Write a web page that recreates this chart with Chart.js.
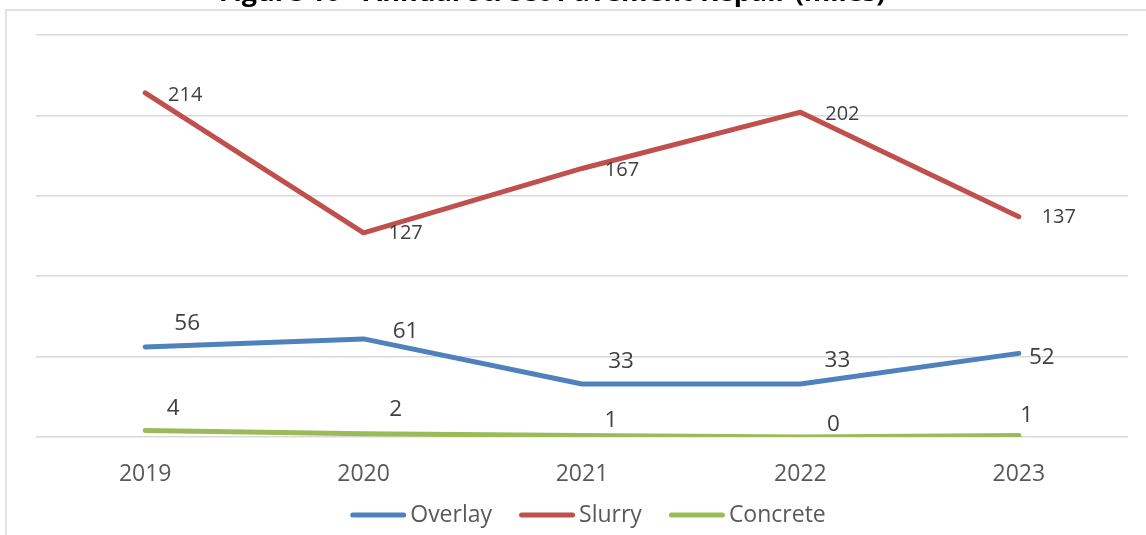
<!DOCTYPE html>
<html>
<head>
<meta charset="utf-8">
<script src="https://cdn.jsdelivr.net/npm/chart.js@4"></script>
<style>
html,body{margin:0;padding:0;background:#fff;}
#wrap{width:1146px;height:535px;position:relative;}
</style>
</head>
<body>
<div id="wrap"><canvas id="pavementChart" width="1146" height="535"></canvas></div>
<script>
const years = ["2019","2020","2021","2022","2023"]
const overlay = [56,61,33,33,52]
const slurry = [214,127,167,202,137]
const concrete = [4,2,1,0,1]

const yTicks = [0,50,100,150,200,250]

// label nudges (px) per point, like the hand-placed excel labels
const labelOffsets = {
  Overlay:[[42,-23],[42,-7],[39,-22],[37,-23],[23,4]],
  Slurry:[[40,2],[42,1],[40,2],[42,2],[40,1]],
  Concrete:[[28,-22],[32,-24],[29,-15],[33,-12],[8,-20]]
}
const labelSizes = {Overlay:22.5,Slurry:20,Concrete:22.5}

const frame = {
  id:"frame",
  beforeDraw(chart){
    const c = chart.ctx
    c.save()
    c.strokeStyle = "#d9d9d9"
    c.lineWidth = 1.5
    c.beginPath()
    c.moveTo(6,535)
    c.lineTo(6,10)
    c.lineTo(1146,10)
    c.stroke()
    c.font = "bold 27px 'Open Sans'"
    c.fillStyle = "#000"
    c.textAlign = "center"
    c.textBaseline = "bottom"
    c.fillText("Figure 10 - Annual Street Pavement Repair (miles)",552,7)
    c.restore()
  }
}

const dataLabels = {
  id:"dataLabels",
  afterDatasetsDraw(chart){
    const c = chart.ctx
    c.save()
    c.fillStyle = "#404040"
    c.textAlign = "center"
    c.textBaseline = "middle"
    chart.data.datasets.forEach((ds,i)=>{
      const meta = chart.getDatasetMeta(i)
      c.font = labelSizes[ds.label] + "px 'Open Sans'"
      meta.data.forEach((pt,j)=>{
        const off = labelOffsets[ds.label][j]
        c.fillText(String(ds.data[j]),pt.x+off[0],pt.y+off[1])
      })
    })
    c.restore()
  }
}

// excel style legend: line swatch hugging the text
const lineLegend = {
  id:"lineLegend",
  afterDraw(chart){
    const c = chart.ctx
    const sw = 56, gap = 4, between = 27, y = 515
    c.save()
    c.font = "23px 'Open Sans'"
    c.textBaseline = "middle"
    const items = chart.data.datasets.map(ds=>({ds,w:c.measureText(ds.label).width}))
    let total = items.reduce((s,it)=>s+sw+gap+it.w,0) + between*(items.length-1)
    let x = 588 - total/2
    items.forEach(it=>{
      c.strokeStyle = it.ds.borderColor
      c.lineWidth = 5
      c.lineCap = "round"
      c.beginPath()
      c.moveTo(x+2.5,y)
      c.lineTo(x+sw-2.5,y)
      c.stroke()
      c.fillStyle = "#595959"
      c.fillText(it.ds.label,x+sw+gap,y)
      x += sw+gap+it.w+between
    })
    c.restore()
  }
}

const ctx = document.getElementById("pavementChart")

new Chart(ctx,{
  type:"line",
  data:{
    labels:years,
    datasets:[
      {label:"Overlay",data:overlay,borderColor:"#4f81bd",backgroundColor:"#4f81bd"},
      {label:"Slurry",data:slurry,borderColor:"#c0504d",backgroundColor:"#c0504d"},
      {label:"Concrete",data:concrete,borderColor:"#9bbb59",backgroundColor:"#9bbb59"}
    ]
  },
  options:{
    responsive:false,
    animation:false,
    devicePixelRatio:1,
    layout:{padding:{left:36,right:18,top:35,bottom:43}},
    elements:{
      line:{borderWidth:5,tension:0,borderCapStyle:"round",borderJoinStyle:"round"},
      point:{radius:0,hoverRadius:0}
    },
    plugins:{
      legend:{display:false},
      tooltip:{enabled:false}
    },
    scales:{
      x:{
        offset:true,
        grid:{display:false},
        border:{display:false},
        ticks:{color:"#595959",font:{family:"'Open Sans'",size:23},padding:16},
        afterFit(axis){ axis.height = 55 }
      },
      y:{
        min:0,
        max:250,
        afterBuildTicks(axis){ axis.ticks = yTicks.map(v=>({value:v})) },
        grid:{color:"#d9d9d9",lineWidth:1.5,drawTicks:false},
        border:{display:false},
        ticks:{display:false}
      }
    }
  },
  plugins:[frame,dataLabels,lineLegend]
})
</script>
</body>
</html>
